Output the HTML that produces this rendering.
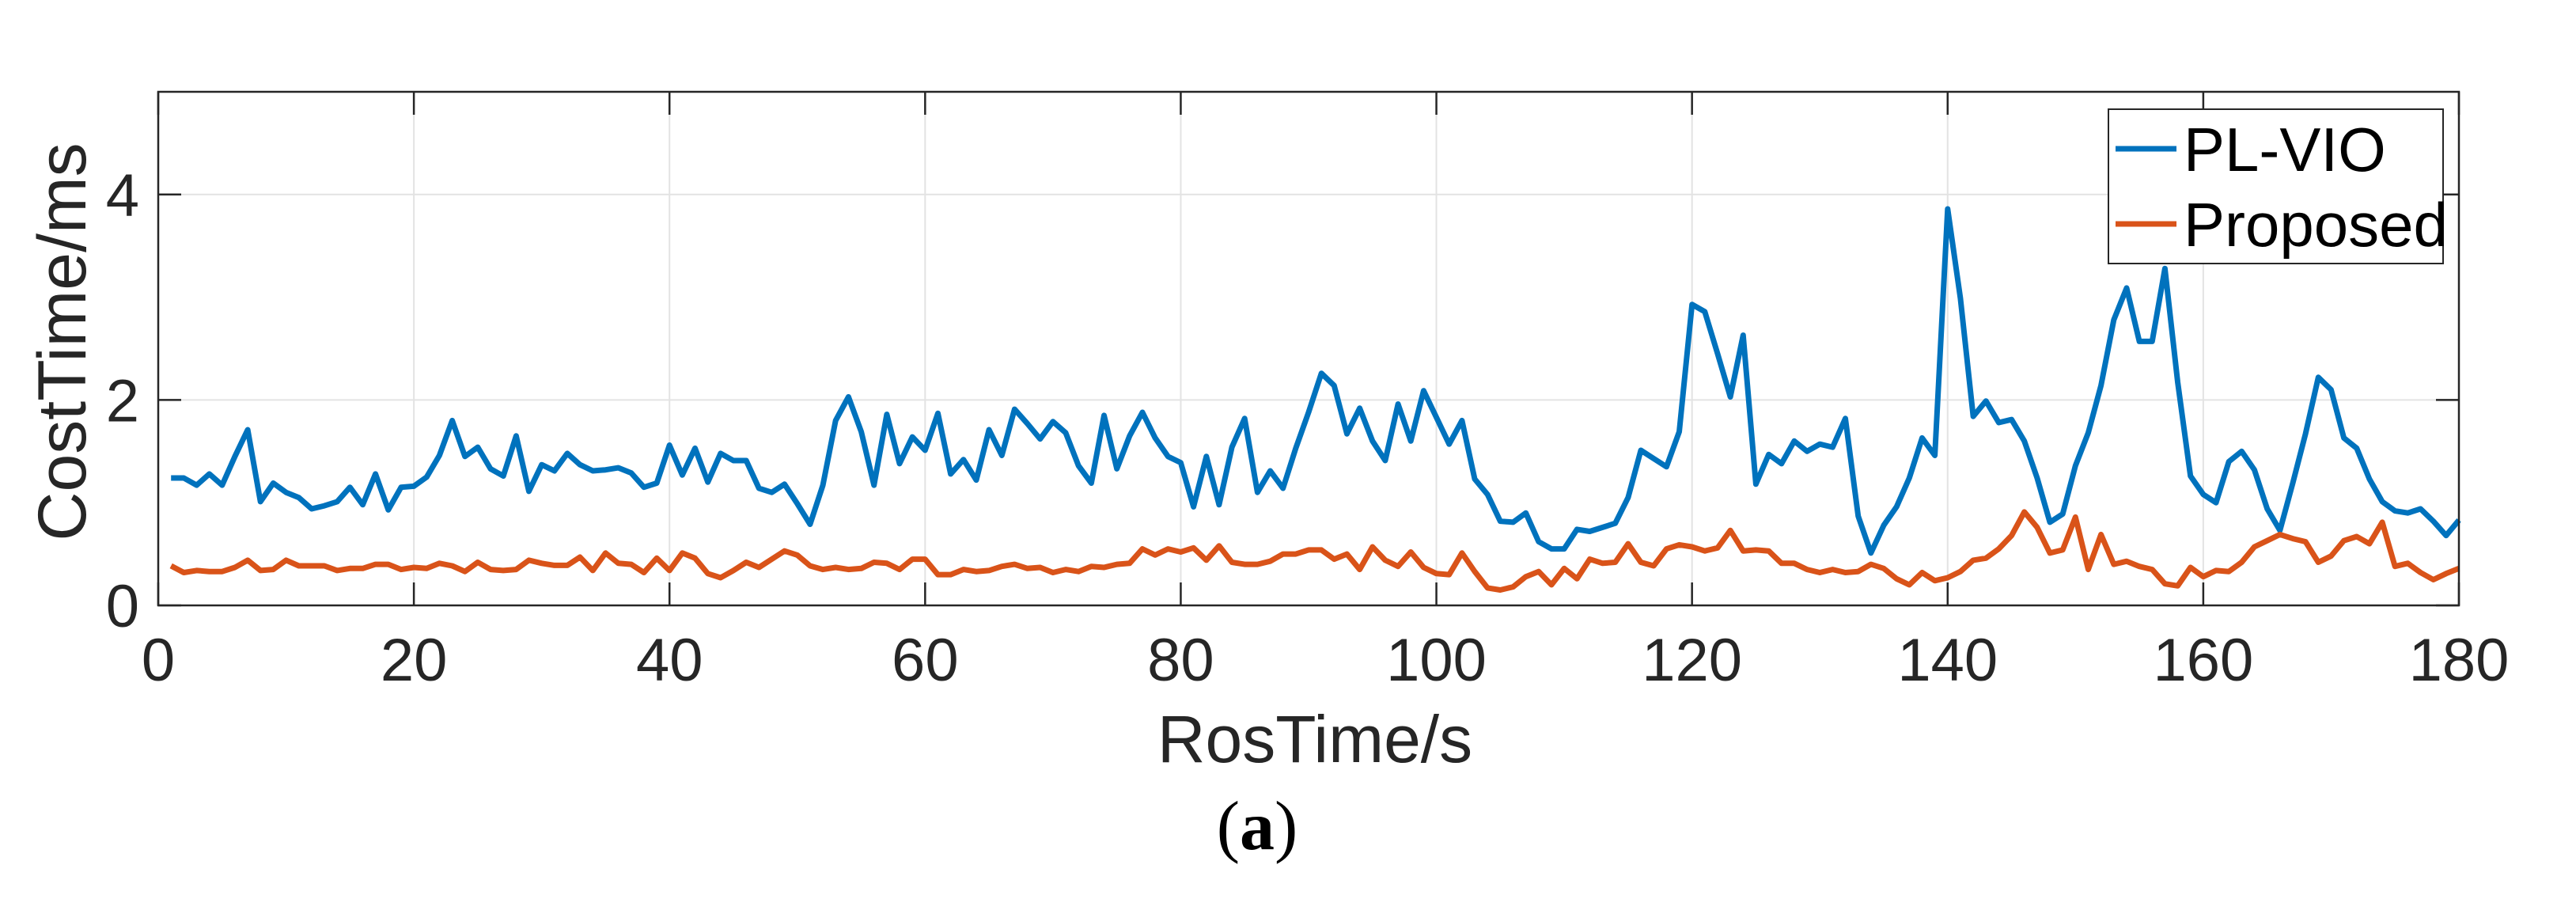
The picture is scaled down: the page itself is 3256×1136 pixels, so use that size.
<!DOCTYPE html>
<html>
<head>
<meta charset="utf-8">
<style>
  html, body { margin: 0; padding: 0; background: #ffffff; }
  svg { display: block; }
  text { font-family: "Liberation Sans", Arial, sans-serif; }
</style>
</head>
<body>
<svg id="chart" width="3256" height="1136" viewBox="0 0 3256 1136" xmlns="http://www.w3.org/2000/svg">
  <rect x="0" y="0" width="3256" height="1136" fill="#ffffff"/>
  <g id="grid"></g>
  <g id="series"></g>
  <g id="axes"></g>
  <g id="legend">
    <rect x="2665" y="138" width="423" height="195" fill="#ffffff" stroke="#262626" stroke-width="2"/>
    <line x1="2674" y1="188" x2="2751" y2="188" stroke="#0072BD" stroke-width="7"/>
    <text x="2760" y="216" font-size="78" fill="#000">PL-VIO</text>
    <line x1="2674" y1="283" x2="2751" y2="283" stroke="#D95319" stroke-width="7"/>
    <text x="2760" y="311" font-size="78" fill="#000">Proposed</text>
  </g>
  <text transform="translate(108,432) rotate(-90)" text-anchor="middle" font-size="86" fill="#262626">CostTime/ms</text>
  <text x="1662" y="963" text-anchor="middle" font-size="84" fill="#262626">RosTime/s</text>
  <text x="1589" y="1073" text-anchor="middle" font-size="88" fill="#000" style="font-family:'Liberation Serif',serif">(<tspan font-weight="bold">a</tspan>)</text>
</svg>
<script>
const xTicks = [0, 20, 40, 60, 80, 100, 120, 140, 160, 180];
const yTicks = [0, 2, 4];
const plVio = [1.24,1.24,1.17,1.28,1.17,1.45,1.71,1.01,1.19,1.10,1.05,0.94,0.97,1.01,1.15,0.98,1.28,0.93,1.15,1.16,
1.25,1.46,1.80,1.45,1.54,1.33,1.26,1.65,1.11,1.37,1.31,1.48,1.37,1.31,1.32,1.34,1.29,1.15,1.19,1.56,
1.27,1.53,1.20,1.48,1.41,1.41,1.14,1.10,1.18,0.99,0.79,1.17,1.80,2.03,1.69,1.17,1.86,1.38,1.64,1.51,
1.87,1.28,1.42,1.22,1.71,1.46,1.91,1.77,1.62,1.79,1.68,1.36,1.19,1.85,1.33,1.65,1.88,1.63,1.45,1.39,
0.96,1.45,0.98,1.54,1.82,1.10,1.31,1.14,1.53,1.88,2.26,2.14,1.67,1.92,1.60,1.41,1.96,1.60,2.09,1.83,
1.57,1.80,1.23,1.08,0.82,0.81,0.90,0.62,0.55,0.55,0.74,0.72,0.76,0.80,1.05,1.51,1.43,1.35,1.69,2.93,
2.86,2.45,2.03,2.63,1.18,1.47,1.38,1.60,1.50,1.57,1.54,1.82,0.87,0.51,0.78,0.96,1.24,1.63,1.46,3.86,
2.99,1.84,1.99,1.78,1.81,1.60,1.24,0.81,0.89,1.36,1.68,2.14,2.78,3.09,2.57,2.57,3.28,2.17,1.26,1.08,
1.00,1.40,1.50,1.32,0.94,0.73,1.19,1.67,2.22,2.10,1.63,1.53,1.23,1.01,0.92,0.90,0.94,0.82,0.68,0.83];
const proposed = [0.385,0.32,0.34,0.33,0.33,0.37,0.44,0.34,0.35,0.44,0.385,0.385,0.385,0.34,0.36,0.36,0.40,0.40,0.35,0.37,
0.36,0.41,0.385,0.33,0.42,0.35,0.34,0.35,0.44,0.41,0.39,0.39,0.47,0.34,0.51,0.41,0.40,0.32,0.46,0.34,
0.51,0.46,0.31,0.27,0.34,0.42,0.37,0.45,0.53,0.49,0.385,0.35,0.37,0.35,0.36,0.42,0.41,0.35,0.45,0.45,
0.30,0.30,0.35,0.33,0.34,0.38,0.40,0.36,0.37,0.32,0.35,0.33,0.38,0.37,0.40,0.41,0.55,0.49,0.55,0.52,
0.56,0.44,0.58,0.42,0.40,0.40,0.43,0.50,0.50,0.54,0.54,0.45,0.50,0.35,0.57,0.44,0.38,0.52,0.37,0.31,
0.30,0.51,0.33,0.17,0.15,0.18,0.28,0.33,0.20,0.36,0.26,0.45,0.41,0.42,0.60,0.42,0.385,0.55,0.59,0.57,
0.53,0.56,0.73,0.53,0.54,0.53,0.41,0.41,0.35,0.32,0.35,0.32,0.33,0.40,0.36,0.26,0.20,0.32,0.24,0.27,
0.33,0.44,0.46,0.55,0.68,0.91,0.76,0.51,0.54,0.86,0.35,0.69,0.40,0.43,0.38,0.35,0.21,0.19,0.37,0.28,
0.34,0.33,0.42,0.57,0.63,0.69,0.65,0.62,0.42,0.48,0.63,0.67,0.60,0.81,0.38,0.41,0.32,0.25,0.31,0.36];

const NS = 'http://www.w3.org/2000/svg';
const L = 200, R = 3108, T = 116, B = 765;
const X0 = 0, X1 = 180, Y0 = 0, Y1 = 5;
function sx(v) { return L + (v - X0) / (X1 - X0) * (R - L); }
function sy(v) { return B - (v - Y0) / (Y1 - Y0) * (B - T); }
function mk(tag, attrs, parent) {
  const el = document.createElementNS(NS, tag);
  for (const k in attrs) el.setAttribute(k, attrs[k]);
  parent.appendChild(el);
  return el;
}
const grid = document.getElementById('grid');
const axes = document.getElementById('axes');
const series = document.getElementById('series');

xTicks.forEach(function (t) {
  const g = mk('line', {x1: sx(t), y1: T, x2: sx(t), y2: B, stroke: '#e3e3e3', 'stroke-width': 2}, grid);
  
  
  const tb = mk('line', {x1: sx(t), y1: B, x2: sx(t), y2: B - 29, stroke: '#262626', 'stroke-width': 2.5}, axes);
  
  
  const tt = mk('line', {x1: sx(t), y1: T, x2: sx(t), y2: T + 29, stroke: '#262626', 'stroke-width': 2.5}, axes);
  
  
  const lb = mk('text', {x: sx(t), y: 860, 'text-anchor': 'middle', 'font-size': 76, fill: '#262626'}, axes);
  
  
  lb.textContent = String(t);
});
yTicks.forEach(function (t) {
  const g = mk('line', {x1: L, y1: sy(t), x2: R, y2: sy(t), stroke: '#e3e3e3', 'stroke-width': 2}, grid);
  
  
  const tl = mk('line', {x1: L, y1: sy(t), x2: L + 29, y2: sy(t), stroke: '#262626', 'stroke-width': 2.5}, axes);
  
  
  const tr = mk('line', {x1: R, y1: sy(t), x2: R - 29, y2: sy(t), stroke: '#262626', 'stroke-width': 2.5}, axes);
  
  
  const lb = mk('text', {x: 176, y: sy(t) + 27, 'text-anchor': 'end', 'font-size': 76, fill: '#262626'}, axes);
  
  
  lb.textContent = String(t);
});
const frame = mk('rect', {x: L, y: T, width: R - L, height: B - T, fill: 'none', stroke: '#262626', 'stroke-width': 2.5}, axes);



function drawLine(vals, color, name) {
  const pts = vals.map(function (v, i) { return sx(i + 1).toFixed(1) + ',' + sy(v).toFixed(1); }).join(' ');
  const pl = mk('polyline', {points: pts, fill: 'none', stroke: color, 'stroke-width': 7, 'stroke-linejoin': 'round'}, series);
  
  
}
drawLine(plVio, '#0072BD', 'line-pl-vio');
drawLine(proposed, '#D95319', 'line-proposed');
</script>
</body>
</html>
